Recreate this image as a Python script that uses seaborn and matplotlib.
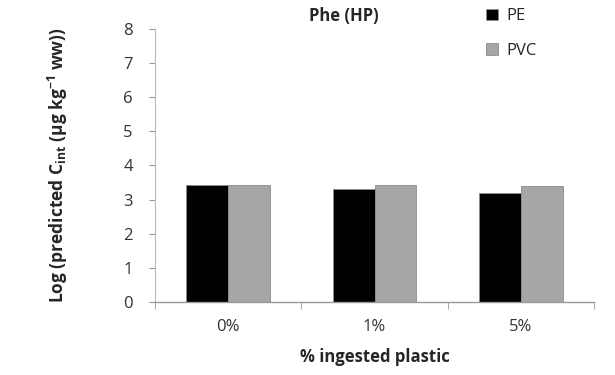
import matplotlib
matplotlib.use("Agg")
import matplotlib.pyplot as plt
import pandas as pd
import seaborn as sns

# data
categories = ["0%", "1%", "5%"]
series = ["PE", "PVC"]
pe_values = [3.43, 3.30, 3.18]
pvc_values = [3.43, 3.43, 3.40]
y_ticks = [0, 1, 2, 3, 4, 5, 6, 7, 8]

df = pd.DataFrame({
    "plastic": categories * 2,
    "polymer": ["PE"] * 3 + ["PVC"] * 3,
    "value": pe_values + pvc_values,
})

sns.set_style("white")
plt.rcParams["font.family"] = ["Open Sans", "DejaVu Sans"]

fig = plt.figure(figsize=(6.15, 3.75), dpi=100)
ax = fig.add_axes([0.252, 0.195, 0.714, 0.728])

sns.barplot(data=df, x="plastic", y="value", hue="polymer", order=categories,
            hue_order=series, palette=["#000000", "#a6a6a6"], width=0.57,
            ax=ax, saturation=1, edgecolor="#8c8c8c", linewidth=0.6)

ax.set_ylim(0, 8)
ax.set_xlim(-0.5, 2.5)
ax.set_yticks(y_ticks)
ax.set_yticklabels([str(t) for t in y_ticks], fontsize=12, color="#333333")
ax.tick_params(axis="y", left=True, length=4, color="#999999", pad=12)
ax.tick_params(axis="x", which="major", length=0, labelsize=12, labelcolor="#333333", pad=12)
ax.set_xticks([-0.5, 0.5, 1.5, 2.5], minor=True)
ax.tick_params(axis="x", which="minor", bottom=True, length=5, color="#999999")

for side in ["top", "right"]:
    ax.spines[side].set_visible(False)
ax.spines["left"].set_color("#bbbbbb")
ax.spines["bottom"].set_color("#999999")
ax.spines["left"].set_linewidth(0.8)
ax.spines["bottom"].set_linewidth(1.0)

ax.set_xlabel("% ingested plastic", fontsize=12, fontweight="bold", labelpad=10)
ax.set_ylabel(r"Log (predicted C$_{\mathregular{int}}$ (μg kg$^{\mathregular{-1}}$ ww))",
              fontsize=12.5, fontweight="bold", labelpad=38)
ax.set_title("Phe (HP)", fontsize=12, fontweight="bold", x=0.43, y=1.0, pad=6)

ax.legend(loc="upper left", bbox_to_anchor=(0.72, 1.13), frameon=False,
          fontsize=12, handlelength=0.7, handleheight=0.7, labelspacing=1.1,
          handletextpad=0.5)

fig.savefig("out.png", dpi=100)
